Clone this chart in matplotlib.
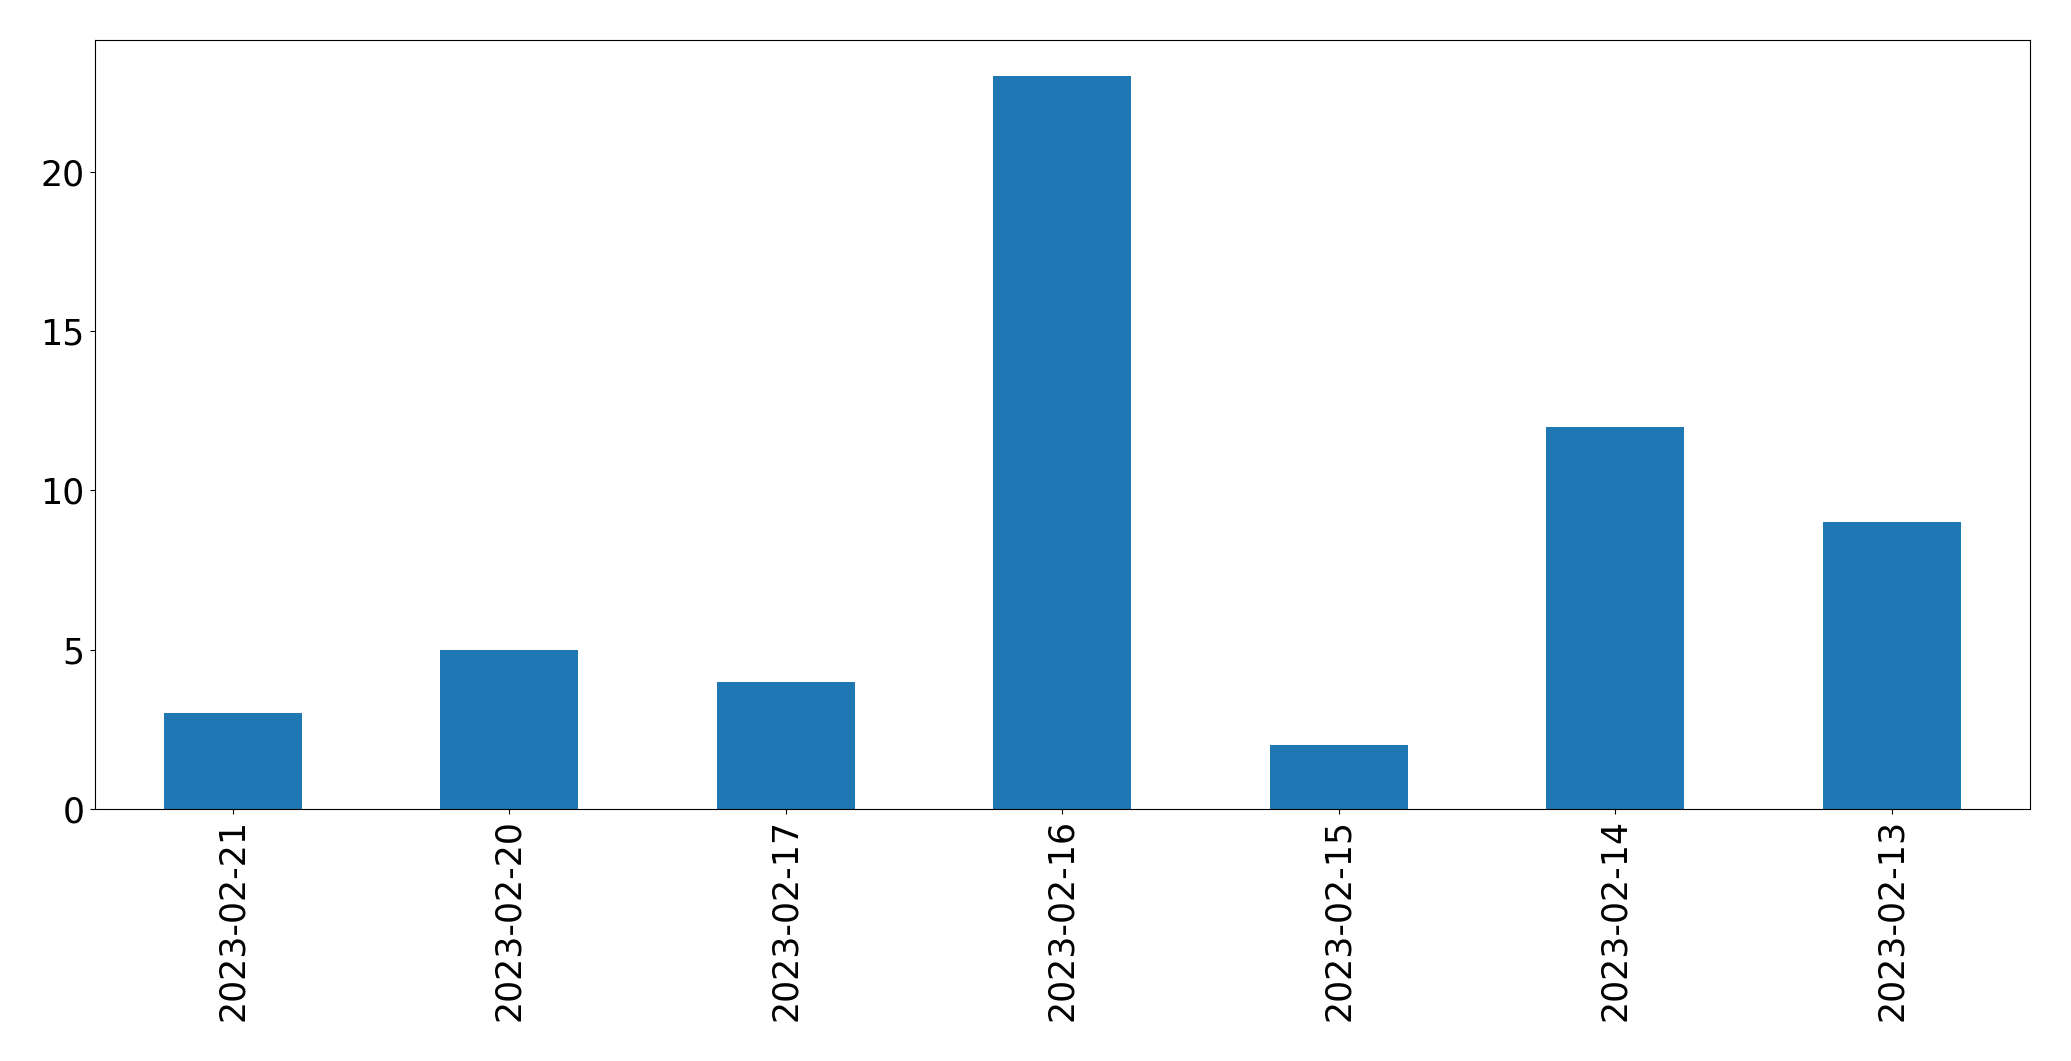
import matplotlib
matplotlib.use("Agg")
import matplotlib.pyplot as plt

dates = ["2023-02-21", "2023-02-20", "2023-02-17", "2023-02-16", "2023-02-15", "2023-02-14", "2023-02-13"]
counts = [3, 5, 4, 23, 2, 12, 9]

fig = plt.figure(figsize=(20.71, 10.61), dpi=100)
ax = fig.add_axes([94.5 / 2071, 1 - 809 / 1061, (2030 - 94.5) / 2071, (809 - 39.5) / 1061])
x = list(range(len(dates)))
ax.bar(x, counts, width=0.5, color="#1f77b4")
ax.set_xlim(-0.5, len(dates) - 0.5)
ax.set_ylim(0, max(counts) * 1.05)
ax.set_xticks(x)
ax.set_xticklabels(dates, rotation=90)
ax.set_yticks([0, 5, 10, 15, 20])
ax.tick_params(labelsize=25)
fig.savefig("out.png", dpi=100)
